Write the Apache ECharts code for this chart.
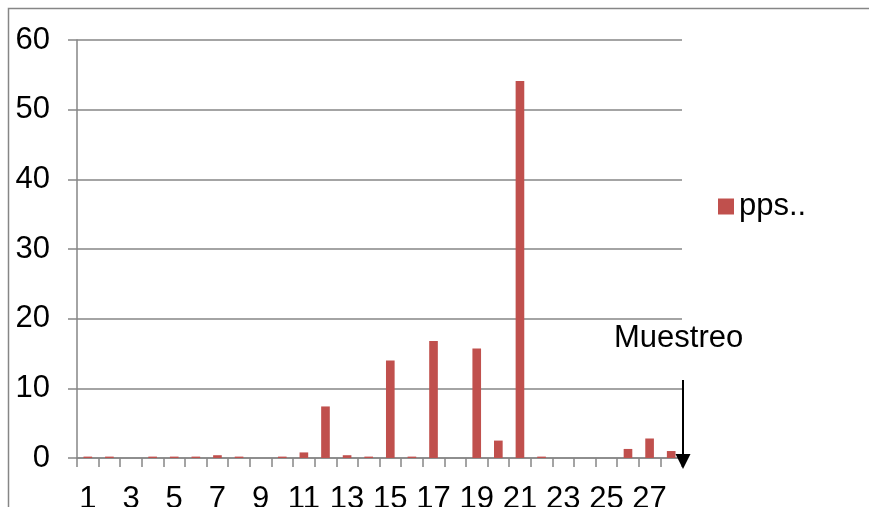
<!DOCTYPE html>
<html>
<head>
<meta charset="utf-8">
<script src="https://cdn.jsdelivr.net/npm/echarts@6/dist/echarts.min.js"></script>
<style>
  html, body { margin: 0; padding: 0; background: #fff; }
  #chart { width: 869px; height: 507px; }
</style>
</head>
<body>
<div id="chart"></div>
<script>
// Sample index along the x axis
const categories = ['1','2','3','4','5','6','7','8','9','10','11','12','13','14',
                    '15','16','17','18','19','20','21','22','23','24','25','26','27','28'];
// Packets per second for each sample
const ppsValues = [0.2, 0.2, 0, 0.2, 0.2, 0.2, 0.4, 0.2, 0, 0.2, 0.8, 7.4, 0.4, 0.2,
                   14.0, 0.2, 16.8, 0, 15.7, 2.5, 54.1, 0.2, 0, 0, 0, 1.3, 2.8, 1.0];
const seriesName = 'pps..';
const annotationText = 'Muestreo';

const FONT = '"Liberation Sans", Arial, sans-serif';
const FONT_SIZE = 31;
const GRAY = '#868686';
const BAR = '#C0504D';

const chart = echarts.init(document.getElementById('chart'), null, { renderer: 'canvas' });

chart.setOption({
  animation: false,
  backgroundColor: '#ffffff',
  textStyle: { fontFamily: FONT },
  grid: {
    left: 77, right: 187, top: 40, bottom: 49,
    containLabel: false,
    outerBoundsMode: 'none'
  },
  legend: {
    data: [seriesName],
    left: 718,
    top: 191,
    padding: 0,
    icon: 'rect',
    itemWidth: 16,
    itemHeight: 16,
    textStyle: { fontFamily: FONT, fontSize: FONT_SIZE, color: '#000' }
  },
  xAxis: {
    type: 'category',
    data: categories,
    boundaryGap: true,
    axisLine: { lineStyle: { color: GRAY, width: 1.5 } },
    axisTick: { show: true, interval: 0, length: 9, lineStyle: { color: GRAY, width: 1.5 } },
    axisLabel: { interval: 1, margin: 26, fontSize: FONT_SIZE, color: '#000', fontFamily: FONT }
  },
  yAxis: {
    type: 'value',
    min: 0,
    max: 60,
    interval: 10,
    axisLine: { show: true, lineStyle: { color: GRAY, width: 1.5 } },
    axisTick: { show: true, length: 9, lineStyle: { color: GRAY, width: 1.5 } },
    splitLine: { show: true, lineStyle: { color: GRAY, width: 1.5 } },
    axisLabel: { margin: 27, fontSize: FONT_SIZE, color: '#000', fontFamily: FONT }
  },
  series: [{
    name: seriesName,
    type: 'bar',
    data: ppsValues,
    barWidth: '40%',
    itemStyle: { color: BAR }
  }],
  graphic: [
    // chart area frame (continues past the right and bottom edges)
    {
      type: 'rect',
      silent: true,
      shape: { x: 8.5, y: 8.5, width: 1000, height: 1000 },
      style: { fill: null, stroke: GRAY, lineWidth: 1.5 },
      z: -1
    },
    // downward arrow marking the sampling point
    {
      type: 'line',
      silent: true,
      shape: { x1: 683, y1: 380, x2: 683, y2: 458 },
      style: { stroke: '#000', lineWidth: 2 },
      z: 10
    },
    {
      type: 'polygon',
      silent: true,
      shape: { points: [[675.5, 454], [690.5, 454], [683, 469]] },
      style: { fill: '#000' },
      z: 10
    },
    {
      type: 'text',
      silent: true,
      style: {
        x: 614,
        y: 338,
        text: annotationText,
        fontSize: FONT_SIZE,
        fontFamily: FONT,
        fill: '#000',
        verticalAlign: 'middle',
        align: 'left'
      },
      z: 10
    }
  ]
});
</script>
</body>
</html>
